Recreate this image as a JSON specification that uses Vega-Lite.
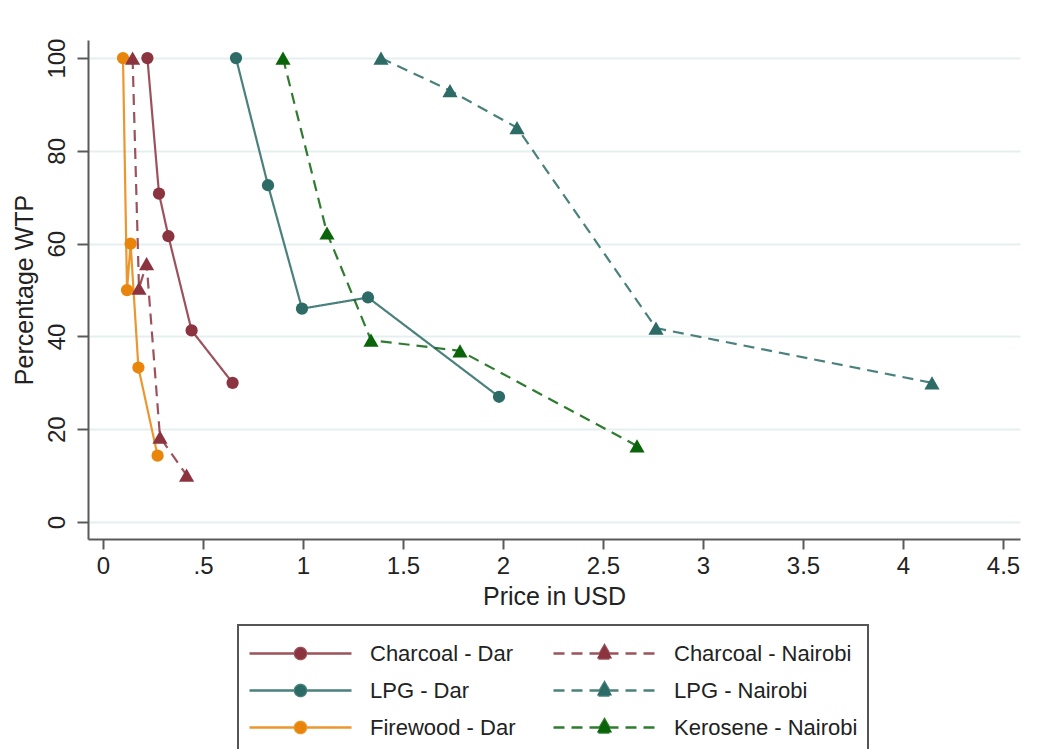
{
  "$schema": "https://vega.github.io/schema/vega-lite/v6.json",
  "autosize": {"type": "none"},
  "padding": {"left": 88, "top": 40, "right": 23, "bottom": 210},
  "width": 932,
  "height": 499,
  "background": "white",
  "config": {
    "view": {"stroke": null},
    "font": "Liberation Sans",
    "axis": {
      "labelFont": "Liberation Sans",
      "titleFont": "Liberation Sans",
      "labelColor": "#222222",
      "titleColor": "#222222",
      "titleFontWeight": "normal",
      "domainColor": "#5a5a5a",
      "domainWidth": 2,
      "tickColor": "#5a5a5a",
      "tickWidth": 2
    }
  },
  "data": {
    "values": [
      {"series": "Charcoal - Dar", "city": "Dar", "price": 0.222, "wtp": 100},
      {"series": "Charcoal - Dar", "city": "Dar", "price": 0.28, "wtp": 70.8},
      {"series": "Charcoal - Dar", "city": "Dar", "price": 0.327, "wtp": 61.6},
      {"series": "Charcoal - Dar", "city": "Dar", "price": 0.443, "wtp": 41.3},
      {"series": "Charcoal - Dar", "city": "Dar", "price": 0.648, "wtp": 30},
      {"series": "Charcoal - Nairobi", "city": "Nairobi", "price": 0.148, "wtp": 100},
      {"series": "Charcoal - Nairobi", "city": "Nairobi", "price": 0.18, "wtp": 50.4},
      {"series": "Charcoal - Nairobi", "city": "Nairobi", "price": 0.218, "wtp": 55.7},
      {"series": "Charcoal - Nairobi", "city": "Nairobi", "price": 0.285, "wtp": 18.3},
      {"series": "Charcoal - Nairobi", "city": "Nairobi", "price": 0.418, "wtp": 10.1},
      {"series": "Firewood - Dar", "city": "Dar", "price": 0.1, "wtp": 100},
      {"series": "Firewood - Dar", "city": "Dar", "price": 0.12, "wtp": 50},
      {"series": "Firewood - Dar", "city": "Dar", "price": 0.138, "wtp": 60},
      {"series": "Firewood - Dar", "city": "Dar", "price": 0.177, "wtp": 33.3},
      {"series": "Firewood - Dar", "city": "Dar", "price": 0.273, "wtp": 14.3},
      {"series": "LPG - Dar", "city": "Dar", "price": 0.665, "wtp": 100},
      {"series": "LPG - Dar", "city": "Dar", "price": 0.825, "wtp": 72.6},
      {"series": "LPG - Dar", "city": "Dar", "price": 0.995, "wtp": 46},
      {"series": "LPG - Dar", "city": "Dar", "price": 1.325, "wtp": 48.4},
      {"series": "LPG - Dar", "city": "Dar", "price": 1.98, "wtp": 27},
      {"series": "LPG - Nairobi", "city": "Nairobi", "price": 1.39, "wtp": 100},
      {"series": "LPG - Nairobi", "city": "Nairobi", "price": 1.735, "wtp": 93},
      {"series": "LPG - Nairobi", "city": "Nairobi", "price": 2.07, "wtp": 85},
      {"series": "LPG - Nairobi", "city": "Nairobi", "price": 2.765, "wtp": 41.8},
      {"series": "LPG - Nairobi", "city": "Nairobi", "price": 4.145, "wtp": 30},
      {"series": "Kerosene - Nairobi", "city": "Nairobi", "price": 0.9, "wtp": 100},
      {"series": "Kerosene - Nairobi", "city": "Nairobi", "price": 1.12, "wtp": 62.3},
      {"series": "Kerosene - Nairobi", "city": "Nairobi", "price": 1.34, "wtp": 39.2},
      {"series": "Kerosene - Nairobi", "city": "Nairobi", "price": 1.785, "wtp": 36.9},
      {"series": "Kerosene - Nairobi", "city": "Nairobi", "price": 2.67, "wtp": 16.4}
    ]
  },
  "encoding": {
    "x": {
      "field": "price",
      "type": "quantitative",
      "scale": {"domain": [-0.075, 4.585], "nice": false, "zero": false},
      "axis": {
        "title": "Price in USD",
        "values": [0, 0.5, 1, 1.5, 2, 2.5, 3, 3.5, 4, 4.5],
        "labelExpr": "datum.value == 0.5 ? '.5' : toString(datum.value)",
        "grid": false,
        "labelFontSize": 24,
        "titleFontSize": 25,
        "tickSize": 10,
        "labelPadding": 5,
        "titlePadding": 6
      }
    },
    "y": {
      "field": "wtp",
      "type": "quantitative",
      "scale": {"domain": [-3.66, 103.9], "nice": false, "zero": false},
      "axis": {
        "title": "Percentage WTP",
        "values": [0, 20, 40, 60, 80, 100],
        "labelAngle": -90,
        "labelAlign": "center",
        "labelBaseline": "bottom",
        "grid": true,
        "gridColor": "#e6eff0",
        "gridWidth": 2,
        "labelFontSize": 24,
        "titleFontSize": 25,
        "tickSize": 11,
        "labelPadding": 8,
        "titlePadding": 8
      }
    },
    "color": {
      "field": "series",
      "type": "nominal",
      "scale": {
        "domain": ["Charcoal - Dar", "LPG - Dar", "Firewood - Dar", "Charcoal - Nairobi", "LPG - Nairobi", "Kerosene - Nairobi"],
        "range": ["#8B3440", "#2C6B66", "#E8850A", "#8B3440", "#2C6B66", "#0A640A"]
      },
      "legend": {
        "title": null,
        "orient": "none",
        "legendX": 150,
        "legendY": 585,
        "columns": 2,
        "columnPadding": 36,
        "rowPadding": 0,
        "clipHeight": 37,
        "symbolSize": 10404,
        "symbolStrokeWidth": 2,
        "labelOffset": 17,
        "labelLimit": 400,
        "labelFont": "Liberation Sans",
        "labelFontSize": 22,
        "labelColor": "#222222",
        "padding": 10,
        "strokeColor": "#555555",
        "fillColor": "white",
        "encode": {
          "symbols": {
            "update": {
              "shape": {"signal": "indexof(datum.value, 'Dar') >= 0 ? 'M-1,0H1M-0.11,0A0.11,0.11,0,1,0,0.11,0A0.11,0.11,0,1,0,-0.11,0Z' : 'M-1,0H1M0,-0.16L0.15,0.1L-0.15,0.1Z'"},
              "fill": {"scale": "color", "field": "value"},
              "stroke": {"scale": "color", "field": "value"},
              "strokeDash": {"signal": "indexof(datum.value, 'Dar') >= 0 ? [1, 0] : [11, 7]"},
              "fillOpacity": {"value": 1},
              "strokeOpacity": {"value": 0.85},
              "strokeWidth": {"value": 2.4}
            }
          },
          "legend": {"update": {"strokeWidth": {"value": 2}}}
        }
      }
    }
  },
  "layer": [
    {
      "mark": {"type": "line", "strokeWidth": 2.2, "strokeOpacity": 0.85},
      "encoding": {
        "strokeDash": {
          "field": "series",
          "type": "nominal",
          "scale": {
            "domain": ["Charcoal - Dar", "LPG - Dar", "Firewood - Dar", "Charcoal - Nairobi", "LPG - Nairobi", "Kerosene - Nairobi"],
            "range": [[1, 0], [1, 0], [1, 0], [11, 7], [11, 7], [11, 7]]
          }
        }
      }
    },
    {
      "transform": [{"filter": "datum.city == 'Dar'"}],
      "mark": {"type": "point", "shape": "circle", "filled": true, "opacity": 1, "size": 150}
    },
    {
      "transform": [{"filter": "datum.city == 'Nairobi'"}],
      "mark": {"type": "point", "shape": "triangle-up", "filled": true, "opacity": 1, "size": 230}
    }
  ]
}
